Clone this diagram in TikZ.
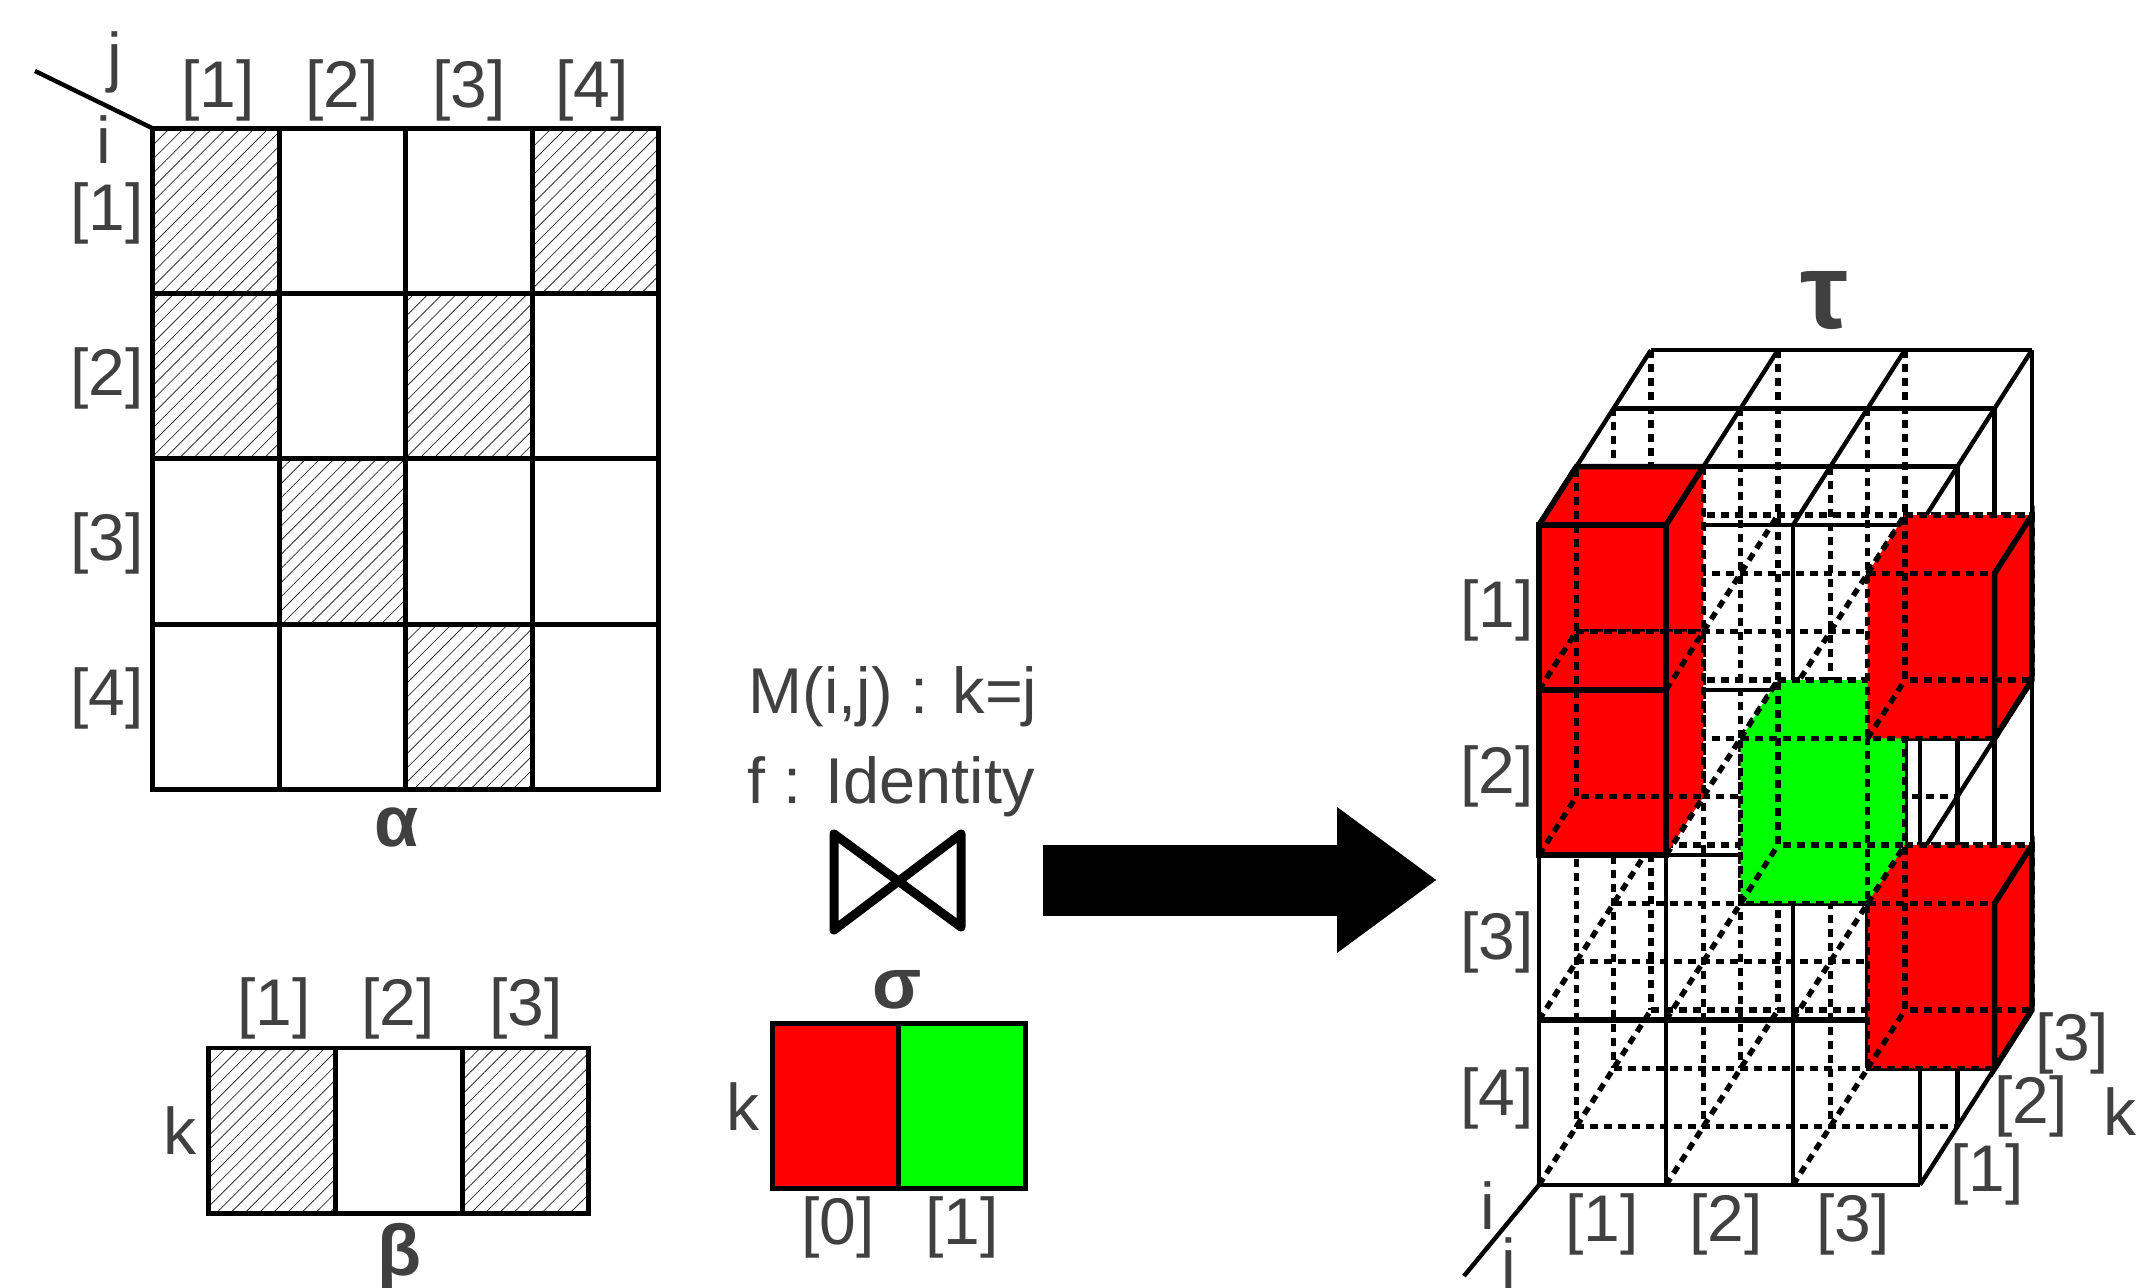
\documentclass[tikz,border=0pt]{standalone}
\usepackage{fontspec}
\setmainfont{Liberation Sans}
\usetikzlibrary{patterns.meta,arrows.meta}
\definecolor{labgray}{HTML}{404040}
\definecolor{hatchgray}{HTML}{333333}
\tikzset{
	lab/.style={text=labgray,font=\fontsize{33}{38}\selectfont,inner sep=0,outer sep=0},
	rulelab/.style={lab,font=\fontsize{32.4}{38}\selectfont},
	boldlab/.style={lab,font=\fontsize{#1}{#1}\selectfont\bfseries},
	cellbox/.style={draw,line width=2.4pt,minimum width=63.25pt,minimum height=82.6pt,inner sep=0,outer sep=0},
	hatched/.style={cellbox,pattern={Lines[angle=45,distance=5pt,line width=.4pt]},pattern color=hatchgray},
	redbox/.style={cellbox,fill=red},
	greenbox/.style={cellbox,fill=green},
	solid3d/.style={line width=2.2pt},
	edge3d/.style={line width=2.8pt},
	dash3d/.style={line width=2.7pt,dash pattern=on 4pt off 3pt}
}
\begin{document}
\begin{tikzpicture}[x=0.5pt,y=-0.5pt]
	\useasboundingbox (0,0) rectangle (2137,1288);
	\foreach \X/\Y/\S [count=\Z] in {0/0/hatched, 1/0/cellbox, 2/0/cellbox, 3/0/hatched,
	0/1/hatched, 1/1/cellbox, 2/1/hatched, 3/1/cellbox,
	0/2/cellbox, 1/2/hatched, 2/2/cellbox, 3/2/cellbox,
	0/3/cellbox, 1/3/cellbox, 2/3/hatched, 3/3/cellbox}
	{\node[\S] (a\Z) at (216+126.5*\X,211+165.25*\Y) {};}
	\foreach \X/\S [count=\Z] in {0/hatched, 1/cellbox, 2/hatched}
	{\node[\S] (b\Z) at (272+126.7*\X,1130.5) {};}
	\node[redbox] (s1) at (836,1106) {};
	\node[greenbox] (s2) at (962,1106) {};
	\coordinate (jend) at (35,71);
	\draw[line width=2.2pt] (jend) -- (a1.north west);
	\foreach \X/\Y/\T [count=\Z] in {218/90/{[1]}, 342/90/{[2]}, 469/90/{[3]}, 592/90/{[4]},
	107/213/{[1]}, 107/378/{[2]}, 107/543/{[3]}, 107/698/{[4]},
	274/1008/{[1]}, 398/1008/{[2]}, 526/1008/{[3]},
	838/1227/{[0]}, 962/1227/{[1]},
	1497/610/{[1]}, 1497/776/{[2]}, 1497/942/{[3]}, 1497/1098/{[4]},
	1602/1224/{[1]}, 1726/1224/{[2]}, 1853/1224/{[3]},
	1987/1174/{[1]}, 2031/1106/{[2]}, 2072/1043/{[3]},
	115/62/j, 104/140/i, 180/1131/k, 743/1107/k, 2120/1112/k, 1488/1206/i, 1509/1268/j}
	{\node[lab] (t\Z) at (\X,\Y) {\T};}
	\node[rulelab] (rule) at (893,697) {M(i,j) : k=j};
	\node[rulelab] (func) at (891,787) {f : Identity};
	\node[boldlab=36] (alpha) at (397,827) {α};
	\node[boldlab=36] (beta) at (399,1257) {β};
	\node[boldlab=36] (sigma) at (897,990) {σ};
	\node[boldlab=54] (tau) at (1825,301) {τ};
	\coordinate (b1) at (834,834);
	\coordinate (b2) at (961,927);
	\coordinate (b3) at (961,834);
	\coordinate (b4) at (834,930);
	\draw[line width=4.5pt,line join=round] (b1) -- (b2) -- (b3) -- (b4) -- cycle;
	\coordinate (ar1) at (1043,880);
	\coordinate (ar2) at (1437,880);
	\draw[line width=35.5pt,-{Triangle[length=50pt,width=69.5pt]}] (ar1) -- (ar2);
	\coordinate (ax1) at (1539,1185);
	\coordinate (ax2) at (1464,1276);
	\draw[line width=2.2pt] (ax1) -- (ax2);
	\begin{scope}[shift={(1539,525)},x={(63.5pt,0)},y={(0,-82.5pt)},z={(18.65pt,29.15pt)}]
		\foreach \D in {1,2,3}{
			\foreach \R in {1,2,3,4}{\draw[dash3d] (0,\R,\D) -- (3,\R,\D);}
			\foreach \C in {0,1,2}{\draw[dash3d] (\C,0,\D) -- (\C,4,\D);}
			\draw[solid3d] (3,0,\D) -- (3,4,\D);
			\draw[solid3d] (0,0,\D) -- (3,0,\D);
		}
		\foreach \C in {0,1,2}{
			\foreach \R in {1,2,3,4}{\draw[dash3d] (\C,\R,0) -- (\C,\R,3);}
		}
		\foreach \C in {0,1,2,3}{
			\draw[solid3d] (\C,0,0) -- (\C,0,3);
			\draw[solid3d] (\C,0,0) -- (\C,4,0);
		}
		\foreach \R in {0,1,2,3,4}{\draw[solid3d] (0,\R,0) -- (3,\R,0);}
		\foreach \R in {2,4}{\draw[solid3d] (3,\R,0) -- (3,\R,3);}
		\draw[line width=3pt] (0,3,0) -- (3,3,0);
		\foreach \C/\R/\D/\K in {1/2/2/green, 2/1/2/red, 2/3/2/red, 0/0/0/red, 0/1/0/red}{
			\begin{scope}[shift={(\C,\R,\D)}]
				\fill[\K] (0,0,1) -- (1,0,1) -- (1,1,1) -- (1,1,0) -- (0,1,0) -- (0,0,0) -- cycle;
				\draw[dash3d] (0,0,0) -- (1,0,0) -- (1,1,0) -- (0,1,0) -- cycle;
				\draw[dash3d] (0,0,1) -- (1,0,1) -- (1,1,1) -- (0,1,1) -- cycle;
				\draw[dash3d] (0,0,0) -- (0,0,1) (1,0,0) -- (1,0,1) (1,1,0) -- (1,1,1) (0,1,0) -- (0,1,1);
			\end{scope}
		}
		\foreach \R in {1,3}{
			\begin{scope}[shift={(2,\R,2)}]
				\draw[edge3d] (1,1,0) -- (1,0,0) -- (1,0,1) -- (1,1,1) -- cycle;
			\end{scope}
		}
		\foreach \R in {0,1}{
			\begin{scope}[shift={(0,\R,0)}]
				\draw[edge3d] (0,0,0) rectangle (1,1,0);
			\end{scope}
		}
		\draw[edge3d] (0,0,0) -- (0,0,1) -- (1,0,1) -- (1,0,0);
		\draw[line width=3pt] (0,2,0) -- (1,2,0);
	\end{scope}
\end{tikzpicture}
\end{document}
